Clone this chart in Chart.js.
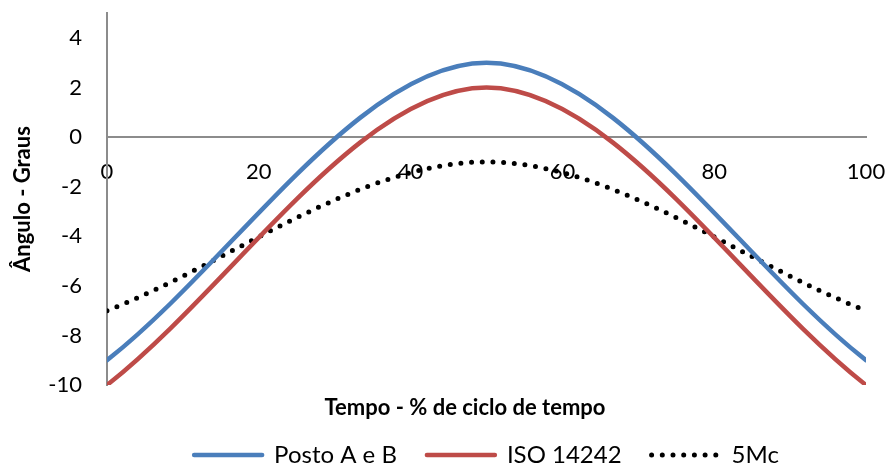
<!DOCTYPE html>
<html>
<head>
<meta charset="utf-8">
<script src="https://cdn.jsdelivr.net/npm/chart.js@4.4.1/dist/chart.umd.min.js"></script>
<style>
  html, body { margin: 0; padding: 0; background: #fff; }
  #c { display: block; }
</style>
</head>
<body>
<canvas id="c" width="889" height="466"></canvas>
<script>
// ---- data ----
const timeValues = [0, 50, 100];              // Tempo - % de ciclo de tempo
const postoAB   = [-9, 3, -9];                // Posto A e B
const iso14242  = [-10, 2, -10];              // ISO 14242
const mc5       = [-7, -1, -7];               // 5Mc
const seriesNames = ['Posto A e B', 'ISO 14242', '5Mc'];
const xTitle = 'Tempo - % de ciclo de tempo';
const yTitle = 'Ângulo - Graus';

const toPts = (ys) => timeValues.map((x, i) => ({ x: x, y: ys[i] }));

Chart.defaults.font.family = 'Lato, "Liberation Sans", sans-serif';
Chart.defaults.font.size = 22;
Chart.defaults.color = '#000';

const axisGrey = '#8c8c8c';

const placeXTitle = {
  id: 'placeXTitle',
  afterLayout(chart) {
    const s = chart.scales.xt;
    s.left = 66; s.right = 864;   // centre of title at ~465
    s.bottom = 421;               // title centre at ~408
  }
};

new Chart(document.getElementById('c'), {
  type: 'line',
  data: {
    datasets: [
      { label: seriesNames[0], data: toPts(postoAB), borderColor: '#4A7EBB', backgroundColor: '#4A7EBB',
        borderWidth: 4.5, pointRadius: 0, cubicInterpolationMode: 'monotone', borderCapStyle: 'round' },
      { label: seriesNames[1], data: toPts(iso14242), borderColor: '#BE4B48', backgroundColor: '#BE4B48',
        borderWidth: 4.5, pointRadius: 0, cubicInterpolationMode: 'monotone', borderCapStyle: 'round' },
      { label: seriesNames[2], data: toPts(mc5), borderColor: '#000', backgroundColor: '#000',
        borderWidth: 5, pointRadius: 0, cubicInterpolationMode: 'monotone',
        borderDash: [0, 10.7], borderCapStyle: 'round' }
    ]
  },
  options: {
    responsive: false,
    devicePixelRatio: 1,
    animation: false,
    layout: { padding: { top: 13, left: 0, right: 23, bottom: 0 } },
    plugins: {
      legend: {
        position: 'bottom',
        fullSize: false,
        maxHeight: 53,
        labels: {
          usePointStyle: true,
          pointStyle: 'line',
          pointStyleWidth: 68,
          boxHeight: 24,
          padding: 30,
          color: '#000',
          font: { size: 24 },
          generateLabels(chart) {
            const items = Chart.defaults.plugins.legend.labels.generateLabels(chart);
            items.forEach((it) => {
              const ds = chart.data.datasets[it.datasetIndex];
              it.lineDash = ds.borderDash || [];
              it.lineCap = ds.borderCapStyle || 'butt';
              it.lineWidth = ds.borderWidth;
              it.strokeStyle = ds.borderColor;
            });
            return items;
          }
        }
      },
      tooltip: { enabled: false }
    },
    scales: {
      x: {
        type: 'linear',
        position: { y: 0 },
        min: 0, max: 100,
        grid: { display: false, drawTicks: true, tickLength: 22 },
        border: { display: true, color: axisGrey, width: 2 },
        ticks: { stepSize: 20, padding: 0, color: '#000', font: { size: 22 }, maxRotation: 0 }
      },
      xt: {
        type: 'linear',
        position: 'bottom',
        display: true,
        grid: { display: false, drawTicks: false },
        border: { display: false },
        ticks: { display: false },
        title: { display: true, text: xTitle, font: { size: 22, weight: 'bold' }, color: '#000',
                 padding: 0 },
        afterFit(s) { s.height = 28; }
      },
      y: {
        type: 'linear',
        position: 'left',
        min: -10, max: 5,
        bounds: 'data',
        grid: { display: false, drawTicks: true, tickLength: 25 },
        border: { display: true, color: axisGrey, width: 2 },
        ticks: { stepSize: 2, includeBounds: false, padding: 0, color: '#000', font: { size: 22 },
                 callback: (v) => (v > 4 ? '' : v) },
        title: { display: true, text: yTitle, font: { size: 22, weight: 'bold' }, color: '#000',
                 padding: { top: 10, bottom: 0 } },
        afterFit(s) { s.width = 107; }
      }
    }
  },
  plugins: [placeXTitle]
});
</script>
</body>
</html>
